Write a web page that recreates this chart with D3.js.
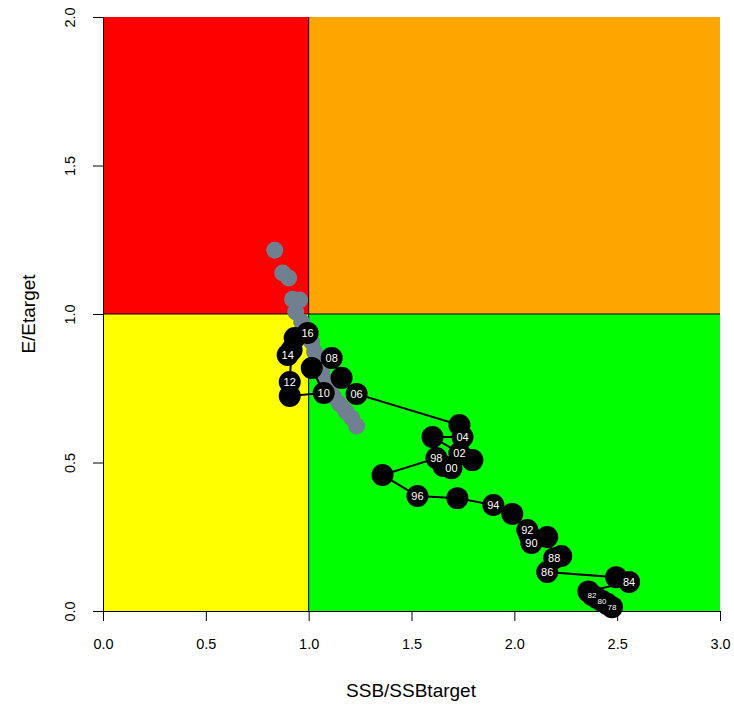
<!DOCTYPE html>
<html>
<head>
<meta charset="utf-8">
<script src="https://cdn.jsdelivr.net/npm/d3@7"></script>
<style>
  body { margin: 0; background: #fff; }
  svg { display: block; font-family: "Liberation Sans", Arial, sans-serif; }
</style>
</head>
<body>
<svg id="chart" width="734" height="709"></svg>
<script>
// --- data ---
const years = [1978, 1979, 1980, 1981, 1982, 1983, 1984, 1985, 1986, 1987, 1988, 1989,
  1990, 1991, 1992, 1993, 1994, 1995, 1996, 1997, 1998, 1999, 2000, 2001, 2002, 2003,
  2004, 2005, 2006, 2007, 2008, 2009, 2010, 2011, 2012, 2013, 2014, 2015, 2016];
const ssbRatio = [2.475, 2.451, 2.426, 2.402, 2.378, 2.360, 2.558, 2.495, 2.160, 2.228, 2.194, 2.160,
  2.083, 2.073, 2.063, 1.990, 1.898, 1.723, 1.529, 1.359, 1.621, 1.655, 1.694, 1.796, 1.733, 1.602,
  1.748, 1.733, 1.233, 1.160, 1.112, 1.015, 1.073, 0.908, 0.908, 0.917, 0.898, 0.932, 0.995];
const effRatio = [0.013, 0.024, 0.034, 0.044, 0.054, 0.066, 0.098, 0.114, 0.131, 0.185, 0.178, 0.249,
  0.229, 0.256, 0.273, 0.327, 0.357, 0.380, 0.387, 0.458, 0.515, 0.488, 0.481, 0.508, 0.532, 0.586,
  0.586, 0.626, 0.731, 0.785, 0.852, 0.818, 0.734, 0.724, 0.771, 0.879, 0.862, 0.919, 0.936];

// grey points (other run)
const greySsb = [0.835, 0.874, 0.903, 0.922, 0.956, 0.937, 0.966, 0.995, 1.015, 1.029,
  1.044, 1.063, 1.083, 1.102, 1.121, 1.150, 1.180, 1.209, 1.233];
const greyEff = [1.215, 1.138, 1.121, 1.050, 1.047, 1.007, 0.973, 0.939, 0.906, 0.872,
  0.838, 0.805, 0.774, 0.747, 0.721, 0.697, 0.673, 0.650, 0.623];

const xTicks = [0, 0.5, 1, 1.5, 2, 2.5, 3];
const yTicks = [0, 0.5, 1, 1.5, 2];

// quadrants: [x0, x1, y0, y1, colour]
const zones = [
  [0, 1, 1, 2, "#ff0000"],
  [1, 3, 1, 2, "#ffa500"],
  [0, 1, 0, 1, "#ffff00"],
  [1, 3, 0, 1, "#00ff00"]
];

const svg = d3.select("#chart");
const x = d3.scaleLinear().domain([0, 3]).range([103, 720]);
const y = d3.scaleLinear().domain([0, 2]).range([611, 17]);

// background zones
svg.append("g").selectAll("rect")
  .data(zones)
  .join("rect")
  .attr("x", d => x(d[0])).attr("width", d => x(d[1]) - x(d[0]))
  .attr("y", d => y(d[3])).attr("height", d => y(d[2]) - y(d[3]))
  .attr("fill", d => d[4]);

// reference lines at 1
svg.append("line")
  .attr("x1", x(1)).attr("x2", x(1)).attr("y1", y(0)).attr("y2", y(2))
  .attr("stroke", "#000").attr("stroke-width", 1);
svg.append("line")
  .attr("x1", x(0)).attr("x2", x(3)).attr("y1", y(1)).attr("y2", y(1))
  .attr("stroke", "#000").attr("stroke-width", 1);

// grey points
svg.append("g").selectAll("circle")
  .data(greySsb.map((v, i) => [v, greyEff[i]]))
  .join("circle")
  .attr("cx", d => x(d[0])).attr("cy", d => y(d[1]))
  .attr("r", 8.5).attr("fill", "#708090");

// trajectory
const pts = years.map((yr, i) => ({ yr, s: ssbRatio[i], e: effRatio[i] }));
svg.append("path")
  .datum(pts)
  .attr("d", d3.line().x(d => x(d.s)).y(d => y(d.e)))
  .attr("fill", "none").attr("stroke", "#000").attr("stroke-width", 2);

svg.append("g").selectAll("circle")
  .data(pts)
  .join("circle")
  .attr("cx", d => x(d.s)).attr("cy", d => y(d.e))
  .attr("r", 11).attr("fill", "#000");

// labels on even years (early ones are packed tightly)
svg.append("g").selectAll("text")
  .data(pts.filter(d => d.yr % 2 === 0))
  .join("text")
  .attr("x", d => x(d.s)).attr("y", d => y(d.e))
  .attr("dy", "0.35em")
  .attr("text-anchor", "middle")
  .attr("font-size", d => d.yr < 1984 ? 8 : 11)
  .attr("fill", "#fff")
  .text(d => String(d.yr).slice(2));

// axes
const xAxis = svg.append("g")
  .attr("transform", `translate(0,${y(0)})`)
  .call(d3.axisBottom(x).tickValues(xTicks).tickFormat(d3.format(".1f")).tickSize(10).tickSizeOuter(0).tickPadding(18));
const yAxis = svg.append("g")
  .attr("transform", `translate(${x(0)},0)`)
  .call(d3.axisLeft(y).tickValues(yTicks).tickFormat(d3.format(".1f")).tickSize(10).tickSizeOuter(0));

[xAxis, yAxis].forEach(a => {
  a.selectAll("text").attr("font-size", 14.5).attr("fill", "#000")
    .attr("font-family", "Liberation Sans, Arial, sans-serif");
  a.selectAll("path, line").attr("stroke", "#000");
});

// vertical tick labels on the y axis like R
yAxis.selectAll(".tick text")
  .attr("x", null).attr("dy", null)
  .attr("text-anchor", "middle")
  .attr("transform", "translate(-33,0) rotate(-90)")
  .attr("y", 0).attr("dy", "0.35em");

svg.append("text")
  .attr("x", 411).attr("y", 697)
  .attr("text-anchor", "middle")
  .attr("font-size", 19)
  .text("SSB/SSBtarget");

svg.append("text")
  .attr("transform", `translate(28,${y(1)}) rotate(-90)`)
  .attr("dy", "0.35em")
  .attr("text-anchor", "middle")
  .attr("font-size", 19)
  .text("E/Etarget");
</script>
</body>
</html>
